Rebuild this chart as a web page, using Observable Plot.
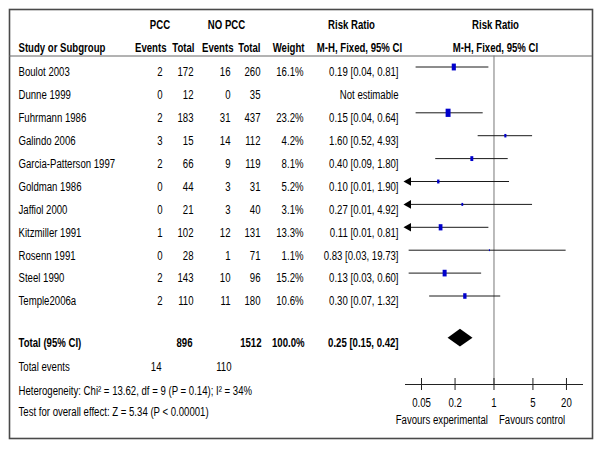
<!DOCTYPE html>
<html>
<head>
<meta charset="utf-8">
<script src="https://cdn.jsdelivr.net/npm/d3@7"></script>
<script src="https://cdn.jsdelivr.net/npm/@observablehq/plot@0.6"></script>
<style>
  html, body { margin: 0; padding: 0; background: #fff; }
  #chart { position: relative; width: 600px; height: 450px; }
  #chart svg { position: absolute; left: 0; top: 0; background: transparent; }
</style>
</head>
<body>
<div id="chart"></div>
<script>
// ---- data ----
const studies   = ["Boulot 2003","Dunne 1999","Fuhrmann 1986","Galindo 2006","Garcia-Patterson 1997","Goldman 1986","Jaffiol 2000","Kitzmiller 1991","Rosenn 1991","Steel 1990","Temple2006a"];
const pccEvents = [2, 0, 2, 3, 2, 0, 0, 1, 0, 2, 2];
const pccTotal  = [172, 12, 183, 15, 66, 44, 21, 102, 28, 143, 110];
const noEvents  = [16, 0, 31, 14, 9, 3, 3, 12, 1, 10, 11];
const noTotal   = [260, 35, 437, 112, 119, 31, 40, 131, 71, 96, 180];
const weights   = [16.1, null, 23.2, 4.2, 8.1, 5.2, 3.1, 13.3, 1.1, 15.2, 10.6];
const riskRatio = [0.19, null, 0.15, 1.60, 0.40, 0.10, 0.27, 0.11, 0.83, 0.13, 0.30];
const ciLow     = [0.04, null, 0.04, 0.52, 0.09, 0.01, 0.01, 0.01, 0.03, 0.03, 0.07];
const ciHigh    = [0.81, null, 0.64, 4.93, 1.80, 1.90, 4.92, 0.81, 19.73, 0.60, 1.32];
const totalLabel = "Total (95% CI)";
const totalN     = [896, 1512];
const totalWeight = 100.0;
const totalRR    = [0.25, 0.15, 0.42]; // estimate, low, high
const totalEventsLabel = "Total events";
const totalEvents = [14, 110];
const heterogeneity = "Heterogeneity: Chi² = 13.62, df = 9 (P = 0.14); I² = 34%";
const overallTest   = "Test for overall effect: Z = 5.34 (P < 0.00001)";
const axisTicks = [0.05, 0.2, 1, 5, 20];
const favoursLeft = "Favours experimental";
const favoursRight = "Favours control";
const groupHeaders = ["PCC", "NO PCC", "Risk Ratio", "Risk Ratio"];
const columnHeaders = ["Study or Subgroup", "Events", "Total", "Events", "Total", "Weight", "M-H, Fixed, 95% CI", "M-H, Fixed, 95% CI"];

// ---- table built from arrays ----
const rows = studies.map((s, i) => ({
  i, study: s, pe: pccEvents[i], pt: pccTotal[i], ne: noEvents[i], nt: noTotal[i],
  w: weights[i], rr: riskRatio[i], lo: ciLow[i], hi: ciHigh[i]
}));
const f2 = v => v.toFixed(2);
const ciText = d => d.rr == null ? "Not estimable" : `${f2(d.rr)} [${f2(d.lo)}, ${f2(d.hi)}]`;

// layout (row units)
const R_H1 = -2.05, R_H2 = -1.07, R_LINE = -0.72;
const R_TOTAL = 11.82, R_EVENTS = 12.87, R_HET = 13.93, R_TEST = 14.83;
const R_TICKLAB = 14.42, R_FAV = 15.2;

const FONT = '"Liberation Sans", Arial, sans-serif';
const yScale = {domain: [0, 10], range: [72, 301], axis: null};

const one = i => [{i}];
const col = (data, text, x, anchor, extra = {}) =>
  Plot.text(data, {x: () => x, y: "i", text: d => String(text(d)), textAnchor: anchor, fill: "#000", ...extra});
const head = (label, row, x, anchor) => col(one(row), () => label, x, anchor, {fontWeight: "bold"});

const table = Plot.plot({
  width: 600, height: 450,
  marginLeft: 9, marginTop: 9, marginRight: 8, marginBottom: 12,
  x: {type: "identity", axis: null},
  y: yScale,
  style: {fontFamily: FONT, fontSize: "12px", background: "transparent"},
  marks: [
    Plot.frame({stroke: "#4a4a4a", strokeWidth: 1.6}),
    Plot.ruleY([R_LINE], {stroke: "#666", strokeWidth: 1}),
    head(groupHeaders[0], R_H1, 159.5, "middle"),
    head(groupHeaders[1], R_H1, 226, "middle"),
    head(groupHeaders[2], R_H1, 351, "middle"),
    head(groupHeaders[3], R_H1, 495, "middle"),
    head(columnHeaders[0], R_H2, 18, "start"),
    head(columnHeaders[1], R_H2, 166, "end"),
    head(columnHeaders[2], R_H2, 194, "end"),
    head(columnHeaders[3], R_H2, 233, "end"),
    head(columnHeaders[4], R_H2, 260, "end"),
    head(columnHeaders[5], R_H2, 304, "end"),
    head(columnHeaders[6], R_H2, 359, "middle"),
    head(columnHeaders[7], R_H2, 495, "middle"),
    col(rows, d => d.study, 18, "start"),
    col(rows, d => d.pe, 162, "end"),
    col(rows, d => d.pt, 193, "end"),
    col(rows, d => d.ne, 230, "end"),
    col(rows, d => d.nt, 260, "end"),
    col(rows, d => d.w == null ? "" : d.w.toFixed(1) + "%", 303, "end"),
    col(rows, ciText, 398, "end"),
    // total row
    col(one(R_TOTAL), () => totalLabel, 18, "start", {fontWeight: "bold"}),
    col(one(R_TOTAL), () => totalN[0], 192, "end", {fontWeight: "bold"}),
    col(one(R_TOTAL), () => totalN[1], 261, "end", {fontWeight: "bold"}),
    col(one(R_TOTAL), () => totalWeight.toFixed(1) + "%", 304, "end", {fontWeight: "bold"}),
    col(one(R_TOTAL), () => `${f2(totalRR[0])} [${f2(totalRR[1])}, ${f2(totalRR[2])}]`, 398, "end", {fontWeight: "bold"}),
    // total events & tests
    col(one(R_EVENTS), () => totalEventsLabel, 18, "start"),
    col(one(R_EVENTS), () => totalEvents[0], 161, "end"),
    col(one(R_EVENTS), () => totalEvents[1], 231, "end"),
    col(one(R_HET), () => heterogeneity, 18, "start"),
    col(one(R_TEST), () => overallTest, 18, "start")
  ]
});

// ---- forest panel ----
const X_DOMAIN = [0.0258, 38.8];
const est = rows.filter(d => d.rr != null);
const clipped = est.filter(d => d.lo < X_DOMAIN[0]);
const DY = -5.5;
const rectSymbol = {
  draw(ctx, size) {
    const h = Math.sqrt(size / 0.6), w = 0.6 * h;
    ctx.rect(-w / 2, -h / 2, w, h);
  }
};
const diamond = [
  {x: totalRR[1], y1: R_TOTAL, y2: R_TOTAL},
  {x: totalRR[0], y1: R_TOTAL - 0.39, y2: R_TOTAL + 0.39},
  {x: totalRR[2], y1: R_TOTAL, y2: R_TOTAL}
];

const forest = Plot.plot({
  width: 600, height: 450,
  marginLeft: 405, marginRight: 18, marginTop: 55.5, marginBottom: 66,
  x: {type: "log", domain: X_DOMAIN},
  y: yScale,
  r: {type: "sqrt", domain: [0, 23.2], range: [0, 3.6]},
  style: {fontFamily: FONT, fontSize: "12px", background: "transparent"},
  marks: [
    Plot.ruleX([1], {stroke: "#777", strokeWidth: 1}),
    Plot.frame({anchor: "bottom", stroke: "#222"}),
    Plot.axisX({ticks: axisTicks, tickSize: 12, dy: -6, fill: "none", label: null, stroke: "#222"}),
    Plot.text(axisTicks, {x: d => d, y: () => R_TICKLAB, text: d => String(d), fill: "#000"}),
    Plot.ruleY(est, {x1: d => Math.max(d.lo, X_DOMAIN[0]), x2: "hi", y: "i", dy: DY, stroke: "#1a1a1a", strokeWidth: 1}),
    Plot.dot(clipped, {x: () => X_DOMAIN[0], y: "i", dy: DY, dx: 3, symbol: "triangle", rotate: -90, r: 3.2, fill: "#000", stroke: null}),
    Plot.dot(est, {x: "rr", y: "i", dy: DY, r: "w", symbol: rectSymbol, fill: "#0000cc", stroke: null}),
    Plot.areaY(diamond, {x: "x", y1: "y1", y2: "y2", dy: DY + 0.5, fill: "#000", curve: "linear"}),
    Plot.text([favoursLeft], {x: () => 1, y: () => R_FAV, text: d => d, textAnchor: "end", dx: -6, fill: "#000"}),
    Plot.text([favoursRight], {x: () => 1, y: () => R_FAV, text: d => d, textAnchor: "start", dx: 5, fill: "#000"})
  ]
});

const chart = document.getElementById("chart");
chart.append(table, forest);

// condense text to an Arial-Narrow-like width
const NARROW = 0.8;
chart.querySelectorAll("text").forEach(t => {
  const len = t.getComputedTextLength();
  if (len > 0) {
    t.setAttribute("textLength", (len * NARROW).toFixed(2));
    t.setAttribute("lengthAdjust", "spacingAndGlyphs");
  }
});
</script>
</body>
</html>
